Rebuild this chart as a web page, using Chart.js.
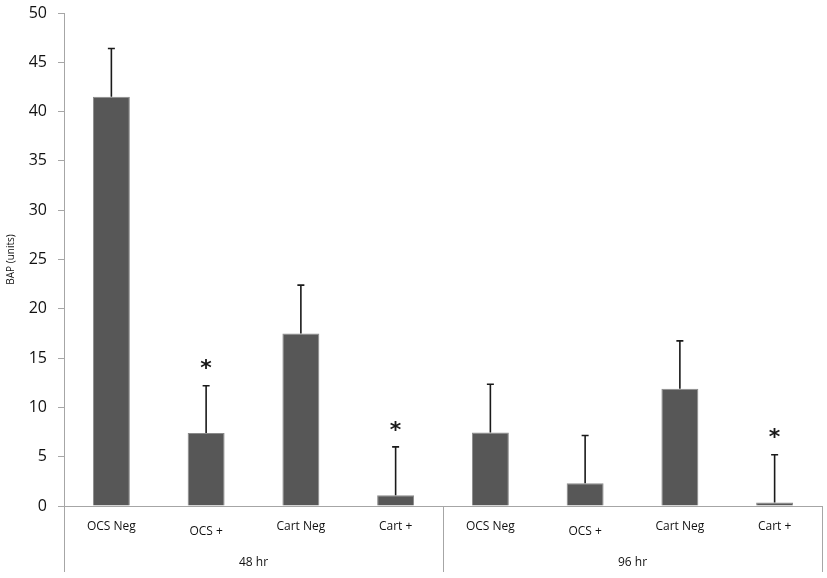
<!DOCTYPE html>
<html>
<head>
<meta charset="utf-8">
<script src="https://cdn.jsdelivr.net/npm/chart.js@4"></script>
<style>
  html, body { margin: 0; padding: 0; background: #fff; }
  #wrap { width: 827px; height: 578px; }
</style>
</head>
<body>
<div id="wrap"><canvas id="chart"></canvas></div>
<script>
// ---------- data ----------
const categories = ["OCS Neg", "OCS +", "Cart Neg", "Cart +", "OCS Neg", "OCS +", "Cart Neg", "Cart +"];
const groups = ["48 hr", "96 hr"];
const groupSize = 4;
const bapValues = [41.5, 7.4, 17.5, 1.1, 7.45, 2.3, 11.9, 0.35];
const bapErrors = [4.9, 4.8, 4.9, 4.9, 4.9, 4.85, 4.85, 4.85];
const significant = [false, true, false, true, false, false, false, true];
const yTicks = [0, 5, 10, 15, 20, 25, 30, 35, 40, 45, 50];

const axisGray = "#a6a6a6";
const textColor = "#111111";

// error bars (upper only) and asterisks
const errorBars = {
    id: "errorBars",
    afterDatasetsDraw(chart) {
        const ctx = chart.ctx;
        const x = chart.scales.x, y = chart.scales.y;
        ctx.save();
        ctx.strokeStyle = "#1a1a1a";
        ctx.lineWidth = 1.6;
        bapValues.forEach((v, i) => {
            const px = x.getPixelForValue(i);
            const y0 = y.getPixelForValue(v);
            const y1 = y.getPixelForValue(v + bapErrors[i]);
            ctx.beginPath();
            ctx.moveTo(px, y0);
            ctx.lineTo(px, y1);
            ctx.moveTo(px - 3.5, y1);
            ctx.lineTo(px + 3.5, y1);
            ctx.stroke();
            if (significant[i]) {
                ctx.fillStyle = "#1a1a1a";
                ctx.font = "bold 22px 'DejaVu Sans'";
                ctx.textAlign = "center";
                ctx.textBaseline = "middle";
                ctx.fillText("*", px, y1 - 16);
            }
        });
        ctx.restore();
    }
};

// two-level category axis below the plot
const groupAxis = {
    id: "groupAxis",
    afterDraw(chart) {
        const ctx = chart.ctx;
        const x = chart.scales.x;
        const area = chart.chartArea;
        const step = (area.right - area.left) / categories.length;
        const bottom = area.bottom + 66;
        ctx.save();
        ctx.strokeStyle = axisGray;
        ctx.lineWidth = 1;
        for (let g = 0; g <= groups.length; g++) {
            const lx = Math.round(area.left + g * groupSize * step) + 0.5;
            ctx.beginPath();
            ctx.moveTo(lx, area.bottom);
            ctx.lineTo(lx, bottom);
            ctx.stroke();
        }
        ctx.fillStyle = textColor;
        ctx.font = "12px 'Open Sans'";
        ctx.textAlign = "center";
        ctx.textBaseline = "middle";
        categories.forEach((c, i) => {
            const drop = c.indexOf("OCS +") === 0 ? 5 : 0;
            ctx.fillText(c, x.getPixelForValue(i), area.bottom + 21 + drop);
        });
        groups.forEach((g, k) => {
            const cx = area.left + (k * groupSize + groupSize / 2) * step;
            ctx.fillText(g, cx, area.bottom + 57);
        });
        ctx.restore();
    }
};

new Chart(document.getElementById("chart"), {
    type: "bar",
    data: {
        labels: categories,
        datasets: [{
            label: "BAP (units)",
            data: bapValues,
            backgroundColor: "#575757",
            borderColor: "#8a8a8a",
            borderWidth: 1,
            barPercentage: 0.39,
            categoryPercentage: 1
        }]
    },
    options: {
        animation: false,
        responsive: true,
        maintainAspectRatio: false,
        layout: { padding: { left: 0, top: 13, right: 5, bottom: 0 } },
        plugins: {
            legend: { display: false },
            tooltip: { enabled: false }
        },
        scales: {
            x: {
                grid: { display: false },
                border: { color: axisGray, width: 1 },
                ticks: { display: false },
                afterFit(scale) {
                    scale.height = 72;
                    scale.paddingLeft = 0;
                    scale.paddingRight = 0;
                }
            },
            y: {
                min: 0,
                max: 50,
                afterBuildTicks(scale) { scale.ticks = yTicks.map(v => ({ value: v })); },
                grid: { display: true, drawOnChartArea: false, drawTicks: true, tickLength: 6, color: axisGray },
                border: { color: axisGray, width: 1 },
                ticks: {
                    color: textColor,
                    font: { family: "'Open Sans'", size: 16 },
                    padding: 11
                },
                title: {
                    display: true,
                    text: "BAP (units)",
                    color: textColor,
                    font: { family: "'Open Sans'", size: 10 },
                    padding: { top: 5, bottom: 0 }
                },
                afterFit(scale) {
                    scale.width = 64;
                    scale.paddingTop = 0;
                    scale.paddingBottom = 0;
                }
            }
        }
    },
    plugins: [errorBars, groupAxis]
});
</script>
</body>
</html>
